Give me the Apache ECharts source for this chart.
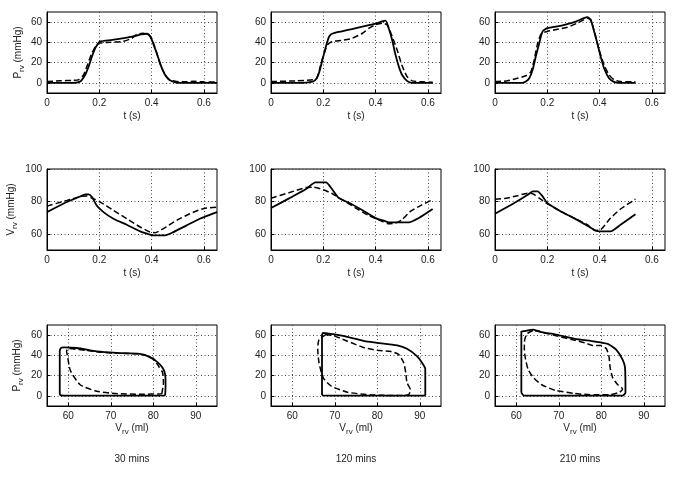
<!DOCTYPE html>
<html><head><meta charset="utf-8">
<script src="https://cdn.jsdelivr.net/npm/echarts@6/dist/echarts.min.js"></script>
<style>html,body{margin:0;padding:0;background:#fff}#c{width:685px;height:478px}</style>
</head><body><div id="c"></div>
<script>
// tick labels
const tTicks = [0, 0.2, 0.4, 0.6];
const pTicks = [0, 20, 40, 60];
const vTimeTicks = [60, 80, 100];
const vTicks = [60, 70, 80, 90];
const panelLabels = ['30 mins', '120 mins', '210 mins'];

// ---- 30 mins ----
const p30sT = [0,0.05,0.10,0.127,0.146,0.159,0.172,0.184,0.197,0.203,0.25,0.30,0.34,0.36,0.38,0.39,0.40,0.41,0.42,0.43,0.44,0.45,0.46,0.47,0.49,0.51,0.55,0.60,0.65];
const p30sP = [0,0,0,1.3,8,16,26,34,39.3,41,42.5,44.5,46.5,47.8,48.5,47.5,43,36,29,21,14,8.5,5,2.5,0.5,0,0,0,0];
const p30dT = [0,0.05,0.10,0.12,0.14,0.155,0.172,0.19,0.20,0.24,0.29,0.324,0.343,0.368,0.388,0.40,0.41,0.42,0.43,0.44,0.45,0.46,0.47,0.49,0.52,0.56,0.60,0.65];
const p30dP = [1.3,2,2.5,3,8,18,29.6,37.7,39.3,40,41,44,48,49,47.6,44,37,29,21,14,9,5,3,1.5,1,1.5,1,0.8];
const v30sT = [0,0.076,0.127,0.146,0.159,0.172,0.19,0.216,0.254,0.305,0.356,0.394,0.407,0.451,0.483,0.534,0.584,0.65];
const v30sV = [73.4,79.6,83,84.3,84.3,82.7,77.5,73.4,69.3,65.6,61.5,59.5,59,59,61,65.2,69.3,73.4];
const v30dT = [0,0.076,0.127,0.152,0.178,0.203,0.254,0.305,0.356,0.394,0.413,0.445,0.496,0.546,0.597,0.65];
const v30dV = [77.1,80.6,83,83.3,81.6,79.6,74.5,69.3,64.2,61.1,60.7,63.2,68.3,72.4,75.5,76.5];
const pv30sV = [82.8,82.9,82.8,82.2,80.7,78.7,76.8,71.3,66.7,62,59,58.3,58,58,58.3,59,70,80,82.8];
const pv30sP = [0.5,10,21,27.7,34.3,39.3,41.5,42.5,44,47.3,48,47.5,44,2,0.5,0.3,0.3,0.3,0.5];
const pv30dV = [82,82.4,82.2,81.3,80.2,78.3,76,72,68,64,61,60,59.6,59.8,60.5,62.8,66.7,71.3,77.5,82];
const pv30dP = [2,13,23,29,36,40,41.5,42,43,45,46.5,47,44,40,25,11,4.6,2.3,1.6,2];

// ---- 120 mins ----
const p120sT = [0,0.10,0.16,0.175,0.185,0.197,0.21,0.223,0.238,0.30,0.40,0.425,0.438,0.45,0.463,0.476,0.489,0.501,0.52,0.54,0.58,0.618];
const p120sP = [0,0,1.3,4.6,11,23,36,46,49,52.5,58.4,60.7,61.4,54,42.6,27.7,16,8,2,0,0,0];
const p120dT = [0,0.096,0.16,0.175,0.185,0.197,0.216,0.235,0.273,0.31,0.35,0.375,0.40,0.425,0.444,0.463,0.482,0.50,0.52,0.54,0.577,0.618];
const p120dP = [1.3,2,3,4.6,13,24,37.6,41,42,44,49,54,57.4,59,57.4,46,32.7,17.8,6.3,2,1,0.5];
const v120sT = [0,0.071,0.134,0.17,0.21,0.235,0.26,0.30,0.35,0.40,0.438,0.45,0.527,0.565,0.618];
const v120sV = [75.9,82,87.6,91.7,91.7,87.2,82,79,74.5,69.7,67.7,67,67,69.7,75.3];
const v120dT = [0,0.071,0.134,0.16,0.20,0.235,0.273,0.324,0.375,0.425,0.45,0.476,0.501,0.533,0.577,0.618];
const v120dV = [82,85.5,88.6,88.8,87.2,84.7,81,75.9,71.2,67.7,66.2,66.6,68.7,73.8,77.9,81];
const pv120sV = [67,67,67.3,70,73.9,77,80,84.7,87,89.4,90.8,91.3,91.3,91,80,70,67];
const pv120sP = [0.5,60,62.3,60.7,57.4,54,52.4,49.8,46.5,39,31,26.7,1,0.3,0.3,0.3,0.5];
const pv120dV = [68,66.3,66,66.3,67.3,69.2,73,78.5,85.5,87.4,87.8,87,86.7,86.2,85,83,80,77,73,70,68];
const pv120dP = [60.7,55.7,46,32.7,17.8,9.6,3.6,1,0.3,1.3,6,13,23,33,41,44,45,47.5,54,59,60.7];

// ---- 210 mins ----
const p210sT = [0,0.105,0.118,0.131,0.144,0.156,0.169,0.182,0.20,0.25,0.30,0.34,0.353,0.366,0.379,0.391,0.404,0.417,0.436,0.455,0.474,0.537];
const p210sP = [0,0,1.3,4.6,13,26,39,50.8,54,56.4,59.7,64,65,62.4,50.8,39.3,26,14.5,4.6,1,0,0];
const p210dT = [0,0.048,0.086,0.118,0.137,0.15,0.163,0.178,0.20,0.239,0.277,0.315,0.34,0.353,0.366,0.385,0.398,0.417,0.436,0.455,0.48,0.537];
const p210dP = [1.3,2,4.6,7,11,23,39,49,50.8,53,55,59,62.4,64,61.7,46,32.7,17.8,8,3,1.3,1];
const v210sT = [0,0.074,0.125,0.144,0.163,0.182,0.20,0.252,0.302,0.353,0.385,0.404,0.442,0.48,0.537];
const v210sV = [72.4,79,84.1,86.2,86.2,83.1,79,73.8,69.7,65,61.9,61.5,61.5,65.6,72];
const v210dT = [0,0.036,0.086,0.125,0.144,0.169,0.20,0.252,0.302,0.353,0.385,0.404,0.442,0.48,0.537];
const v210dV = [81.4,81.8,83.5,85.1,84.7,82,78.6,73.8,69.7,65.6,62.1,62.5,69.7,75.3,81.4];
const pv210sV = [61.2,61.2,62,64,66,69.1,73.8,78.4,81.5,83.5,85,85.6,85.7,85,78.4,61.8,61.2];
const pv210sP = [3,63.5,64,65.5,63,60.7,56.4,53.7,51.4,45.7,36,27.7,3,0.3,0.2,0.3,3];
const pv210dV = [63.9,62.6,62,61.9,62.2,62.8,64.1,66,69.1,73.8,78.4,82.3,84.3,85,83.9,82.7,82.1,81.8,81.2,80,78,76.1,73,69.1,66,63.9];
const pv210dP = [64.6,61.6,55.7,45.8,36,26,17.8,11,5.6,2.3,1,1.3,3.6,6.9,10.9,17.8,27.7,39.3,46.5,49.8,49.8,52.4,55.7,59.7,62.9,64.6];

const zip = (a, b) => a.map((v, i) => [v, b[i]]);

const panels = [
  [[p30sT,p30sP,p30dT,p30dP],[v30sT,v30sV,v30dT,v30dV],[pv30sV,pv30sP,pv30dV,pv30dP]],
  [[p120sT,p120sP,p120dT,p120dP],[v120sT,v120sV,v120dT,v120dV],[pv120sV,pv120sP,pv120dV,pv120dP]],
  [[p210sT,p210sP,p210dT,p210dP],[v210sT,v210sV,v210dT,v210dV],[pv210sV,pv210sP,pv210dV,pv210dP]]
];

const colLeft = [47, 271, 495];
const rowTop = [12, 169, 325];
const W = 170, H = 81;
const FONT = 'Liberation Sans';
const TXT = '#222';
const rich = {
  m: {fontSize: 10, fontFamily: FONT, color: TXT},
  s: {fontSize: 8, fontFamily: FONT, color: TXT, padding: [7, 0, 0, 0]}
};
const rowCfg = [
  {xMin:0, xMax:0.65, xTicks:tTicks, yMin:-10, yMax:70, yTicks:pTicks, xName:'{m|t (s)}', yName:'{m|P}{s|rv}{m| (mmHg)}', yGap:21},
  {xMin:0, xMax:0.65, xTicks:tTicks, yMin:50, yMax:100, yTicks:vTimeTicks, xName:'{m|t (s)}', yName:'{m|V}{s|rv}{m| (mmHg)}', yGap:28},
  {xMin:55, xMax:95, xTicks:vTicks, yMin:-10, yMax:70, yTicks:pTicks, xName:'{m|V}{s|rv}{m| (ml)}', yName:'{m|P}{s|rv}{m| (mmHg)}', yGap:22}
];

const grid = [], xAxis = [], yAxis = [], series = [];
const split = {show:true, lineStyle:{color:'#444', width:1, type:[1,2.5]}};
for (let r = 0; r < 3; r++) {
  for (let c = 0; c < 3; c++) {
    const gi = grid.length;
    const cfg = rowCfg[r];
    grid.push({left: colLeft[c], top: rowTop[r], width: W, height: H, show: true, borderColor: '#000', borderWidth: 1, containLabel: false});
    xAxis.push({
      type:'value', gridIndex: gi, min: cfg.xMin, max: cfg.xMax,
      axisLine:{show:true, onZero:false, lineStyle:{color:'#000'}},
      axisTick:{show:true, inside:true, length:3, customValues: cfg.xTicks, lineStyle:{color:'#000'}},
      axisLabel:{customValues: cfg.xTicks, fontSize:10, fontFamily:FONT, color:TXT, margin:5},
      splitLine: split,
      name: cfg.xName, nameLocation:'middle', nameGap: r === 2 ? 15 : 18,
      nameTextStyle:{rich}
    });
    yAxis.push({
      type:'value', gridIndex: gi, min: cfg.yMin, max: cfg.yMax,
      axisLine:{show:true, onZero:false, lineStyle:{color:'#000'}},
      axisTick:{show:true, inside:true, length:3, customValues: cfg.yTicks, lineStyle:{color:'#000'}},
      axisLabel:{customValues: cfg.yTicks, fontSize:10, fontFamily:FONT, color:TXT, margin:5},
      splitLine: split,
      name: c === 0 ? cfg.yName : '', nameLocation:'middle', nameGap: cfg.yGap, nameRotate: 90,
      nameTextStyle:{rich}
    });
    const d = panels[c][r];
    series.push({type:'line', xAxisIndex: gi, yAxisIndex: gi, data: zip(d[0], d[1]), showSymbol:false, smooth:0.2, animation:false,
      lineStyle:{color:'#000', width:1.8}});
    series.push({type:'line', xAxisIndex: gi, yAxisIndex: gi, data: zip(d[2], d[3]), showSymbol:false, smooth:0.2, animation:false,
      lineStyle:{color:'#000', width:1.5, type:[6,3]}});
  }
}

const graphic = panelLabels.map((t, c) => ({
  type:'text', x: colLeft[c] + W/2, y: 459,
  style:{text:t, fontSize:10, fontFamily:FONT, fill:TXT, align:'center', verticalAlign:'middle'}
}));

const chart = echarts.init(document.getElementById('c'), null, {renderer:'canvas'});
chart.setOption({backgroundColor:'#fff', animation:false, grid, xAxis, yAxis, series, graphic});
</script></body></html>
